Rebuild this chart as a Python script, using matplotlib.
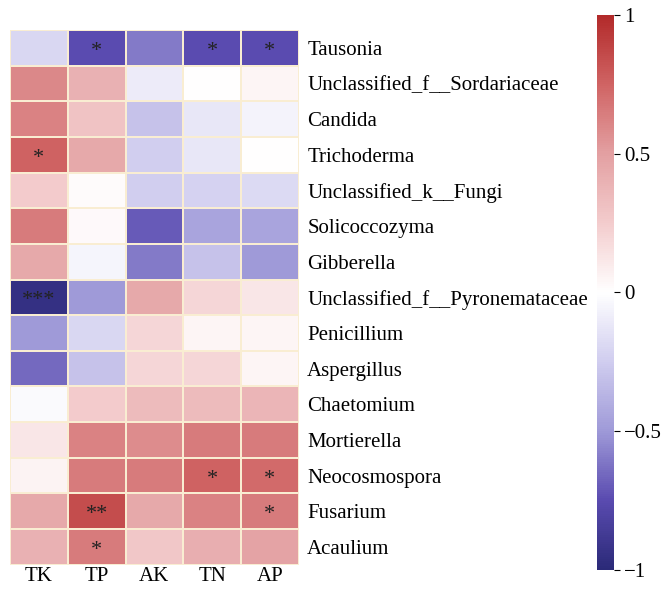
import numpy as np
import matplotlib
matplotlib.use("Agg")
import matplotlib.pyplot as plt
from matplotlib.colors import LinearSegmentedColormap

genera = ["Tausonia", "Unclassified_f__Sordariaceae", "Candida", "Trichoderma",
          "Unclassified_k__Fungi", "Solicoccozyma", "Gibberella",
          "Unclassified_f__Pyronemataceae", "Penicillium", "Aspergillus",
          "Chaetomium", "Mortierella", "Neocosmospora", "Fusarium", "Acaulium"]
factors = ["TK", "TP", "AK", "TN", "AP"]

values = np.array([
    [-0.20, -0.75, -0.60, -0.75, -0.75],
    [0.60, 0.40, -0.10, 0.00, 0.05],
    [0.62, 0.30, -0.30, -0.12, -0.06],
    [0.75, 0.45, -0.25, -0.12, 0.00],
    [0.25, 0.02, -0.25, -0.22, -0.18],
    [0.65, 0.03, -0.70, -0.45, -0.45],
    [0.45, -0.05, -0.60, -0.30, -0.50],
    [-0.95, -0.50, 0.45, 0.20, 0.12],
    [-0.50, -0.20, 0.20, 0.05, 0.05],
    [-0.65, -0.30, 0.20, 0.20, 0.05],
    [-0.03, 0.25, 0.35, 0.35, 0.38],
    [0.12, 0.62, 0.58, 0.65, 0.65],
    [0.06, 0.65, 0.65, 0.75, 0.72],
    [0.45, 0.85, 0.45, 0.62, 0.65],
    [0.40, 0.65, 0.28, 0.42, 0.48],
])

stars = [
    ["", "*", "", "*", "*"],
    ["", "", "", "", ""],
    ["", "", "", "", ""],
    ["*", "", "", "", ""],
    ["", "", "", "", ""],
    ["", "", "", "", ""],
    ["", "", "", "", ""],
    ["***", "", "", "", ""],
    ["", "", "", "", ""],
    ["", "", "", "", ""],
    ["", "", "", "", ""],
    ["", "", "", "", ""],
    ["", "", "", "*", "*"],
    ["", "**", "", "", "*"],
    ["", "*", "", "", ""],
]

cmap = LinearSegmentedColormap.from_list("cb", [
    (0.0, "#2b2a78"), (0.125, "#5a4bb0"), (0.25, "#9f9ad8"), (0.375, "#d0cdef"),
    (0.5, "#ffffff"), (0.625, "#f3cccd"), (0.75, "#e3a0a2"), (0.875, "#d06464"),
    (1.0, "#b22a2a")])

plt.rcParams['font.family'] = ['Liberation Serif', 'DejaVu Serif']

fig = plt.figure(figsize=(6.67, 5.90), dpi=100)
ax = fig.add_axes([0.015, 0.043, 0.433, 0.906])
nr, nc = values.shape
mesh = ax.pcolormesh(np.arange(nc + 1), np.arange(nr + 1), values, cmap=cmap,
                     vmin=-1, vmax=1, edgecolors="#f9edd2", linewidth=1.2)
ax.set_xlim(0, nc)
ax.set_ylim(nr, 0)
for i in range(nr):
    for j in range(nc):
        if stars[i][j]:
            ax.text(j + 0.5, i + 0.6, stars[i][j], ha="center", va="center",
                    fontsize=16, color="#222222")
ax.set_xticks(np.arange(nc) + 0.5)
ax.set_xticklabels(factors, fontsize=15)
ax.set_yticks(np.arange(nr) + 0.5)
ax.set_yticklabels(genera, fontsize=15)
ax.yaxis.tick_right()
ax.tick_params(axis="y", length=0, pad=6)
ax.tick_params(axis="x", length=0, pad=2)
for s in ax.spines.values():
    s.set_visible(False)

cax = fig.add_axes([0.895, 0.034, 0.0255, 0.941])
cb = fig.colorbar(mesh, cax=cax, ticks=[-1, -0.5, 0, 0.5, 1])
cb.ax.set_yticklabels(["\u22121", "\u22120.5", "0", "0.5", "1"], fontsize=15)
cb.outline.set_visible(False)
cb.ax.tick_params(length=4, width=0.8)

fig.savefig("out.png", dpi=100)
